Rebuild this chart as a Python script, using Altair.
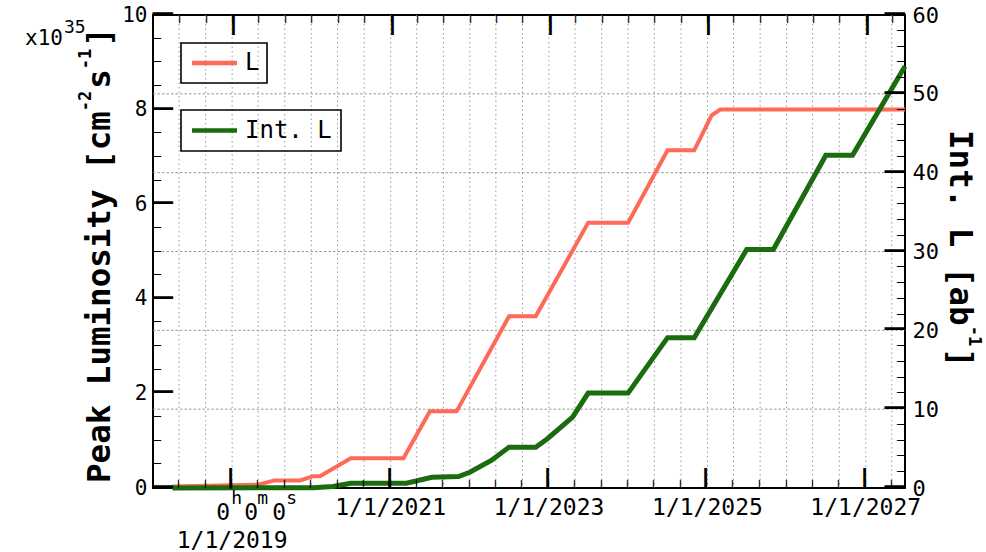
import altair as alt
import pandas as pd

# ---- data -------------------------------------------------------------
# Peak instantaneous luminosity, in units of 1e35 cm^-2 s^-1
lum_dates = ["2018-04-01", "2019-05-01", "2019-07-15", "2019-11-10", "2020-01-10",
             "2020-02-10", "2020-07-01", "2021-03-01", "2021-07-01", "2021-11-01",
             "2022-07-01", "2022-11-01", "2023-07-01", "2024-01-01", "2024-07-01",
             "2024-11-01", "2025-01-20", "2025-03-01", "2027-07-01"]
lum_values = [0.03, 0.07, 0.16, 0.16, 0.25, 0.25, 0.63, 0.63, 1.62, 1.62,
              3.63, 3.63, 5.61, 5.61, 7.14, 7.14, 7.88, 8.0, 8.0]

# Integrated luminosity, in ab^-1
int_dates = ["2018-04-01", "2020-01-10", "2020-04-10", "2020-07-01", "2021-03-15",
             "2021-07-10", "2021-11-10", "2022-01-01", "2022-04-10", "2022-07-01",
             "2022-11-01", "2022-12-25", "2023-04-20", "2023-07-01", "2024-01-01",
             "2024-07-01", "2024-11-01", "2025-07-01", "2025-11-01", "2026-07-01",
             "2026-11-01", "2027-07-01"]
int_values = [0.0, 0.03, 0.2, 0.61, 0.61, 1.37, 1.46, 2.0, 3.49, 5.18,
              5.18, 6.25, 8.99, 12.04, 12.04, 19.07, 19.07, 30.25, 30.25, 42.2,
              42.2, 53.5]

# time axis labels
x_label_dates = ["2021-01-01", "2023-01-01", "2025-01-01", "2027-01-01"]
x_label_texts = ["1/1/2021", "1/1/2023", "1/1/2025", "1/1/2027"]
first_label_date = "2019-01-01"
first_label_text = "1/1/2019"

lum_major = [0, 2, 4, 6, 8, 10]
int_major = [0, 10, 20, 30, 40, 50, 60]

# ---- layout / style ---------------------------------------------------
W, H = 752, 473
FONT = "DejaVu Sans Mono"
RED = "#ff6a58"
GREEN = "#1b6b0f"
DASH = "\u2500"          # box-drawing stroke used for the inward ticks
MINOR_FS, MAJOR_FS = 13.3, 33.2   # stroke length = 0.602 * font size (8 px / 20 px)

x_start, x_end = "2018-01-01", "2027-07-01"
grid_dates = [d.strftime("%Y-%m-%d") for d in pd.date_range(x_start, x_end, freq="4MS")][1:]
major_dates = [first_label_date] + x_label_dates
lum_minor = [i * 0.5 for i in range(21)]
int_minor = [i * 2 for i in range(31)]

x_scale = alt.Scale(type="utc", nice=False,
                    domain=[alt.DateTime(year=2018, month=1, date=1, utc=True),
                            alt.DateTime(year=2027, month=7, date=1, utc=True)])
lum_scale = alt.Scale(domain=[0, 10], nice=False, zero=True)
int_scale = alt.Scale(domain=[0, 60], nice=False, zero=True)

one = pd.DataFrame({"k": [0]})


def xenc(field="date"):
    return alt.X(f"{field}:T", scale=x_scale, axis=None)


layers = []

# dotted grid: vertical every 4 months, horizontal on the Int. L divisions
layers.append(alt.Chart(pd.DataFrame({"date": grid_dates})).mark_rule(
    color="#9a9a9a", strokeWidth=1, strokeDash=[1.5, 3]).encode(
    x=xenc(), y=alt.value(0), y2=alt.value(H)))
layers.append(alt.Chart(pd.DataFrame({"v": int_major[1:-1]})).mark_rule(
    color="#9a9a9a", strokeWidth=1, strokeDash=[2.5, 2]).encode(
    y=alt.Y("v:Q", scale=int_scale, axis=None), x=alt.value(0), x2=alt.value(W)))

# curves
lum_df = pd.DataFrame({"date": lum_dates, "lum": lum_values})
int_df = pd.DataFrame({"date": int_dates, "intl": int_values})

layers.append(alt.Chart(lum_df).mark_line(color=RED, strokeWidth=4).encode(
    x=xenc(),
    y=alt.Y("lum:Q", scale=lum_scale,
            axis=alt.Axis(orient="left", values=lum_major, ticks=False, domain=False,
                          grid=False, labelFont=FONT, labelFontSize=21, labelPadding=6,
                          labelColor="black", title=None))))
layers.append(alt.Chart(int_df).mark_line(color=GREEN, strokeWidth=5).encode(
    x=xenc(),
    y=alt.Y("intl:Q", scale=int_scale,
            axis=alt.Axis(orient="right", values=int_major, ticks=False, domain=False,
                          grid=False, labelFont=FONT, labelFontSize=22, labelPadding=7,
                          labelColor="black", title=None))))


# ---- inward tick marks, set as box-drawing strokes ----
def tick_text(fs):
    return dict(text=DASH, font=FONT, fontSize=fs,
                fontWeight="bold" if fs == MINOR_FS else "normal",
                baseline="middle", color="black")


for dates, fs in [(grid_dates, MINOR_FS), (major_dates, MAJOR_FS)]:
    tick_df = pd.DataFrame({"tdate": dates})
    # top edge, running downwards
    layers.append(alt.Chart(tick_df).mark_text(angle=90, align="left", **tick_text(fs)).encode(
        x=alt.X("tdate:T", scale=x_scale, axis=None), y=alt.value(0)))
    # bottom edge, running upwards
    layers.append(alt.Chart(tick_df).mark_text(angle=270, align="left", **tick_text(fs)).encode(
        x=alt.X("tdate:T", scale=x_scale, axis=None), y=alt.value(H)))

for vals, scale, fs, xpos, align in [(lum_minor, lum_scale, MINOR_FS, 0, "left"),
                                     (lum_major, lum_scale, MAJOR_FS, 0, "left"),
                                     (int_minor, int_scale, MINOR_FS, W, "right"),
                                     (int_major, int_scale, MAJOR_FS, W, "right")]:
    layers.append(alt.Chart(pd.DataFrame({"tv": vals})).mark_text(
        align=align, **tick_text(fs)).encode(
        y=alt.Y("tv:Q", scale=scale, axis=None), x=alt.value(xpos)))

# time axis labels
layers.append(alt.Chart(pd.DataFrame({"date": x_label_dates, "t": x_label_texts})).mark_text(
    font=FONT, fontSize=23, baseline="top", align="center", color="black").encode(
    x=xenc(), y=alt.value(H + 9), text="t:N"))
layers.append(alt.Chart(pd.DataFrame({"date": [first_label_date], "t": [first_label_text]})).mark_text(
    font=FONT, fontSize=23, baseline="alphabetic", align="center", color="black").encode(
    x=xenc(), y=alt.value(H + 60), text="t:N"))
# time-of-day offset written as 0^h 0^m 0^s
for txt, dx, fs, ybase in [("0", -16, 23, H + 32), ("h", -1, 18, H + 16),
                           ("0", 12, 23, H + 32), ("m", 25, 18, H + 16),
                           ("0", 40, 23, H + 32), ("s", 54, 18, H + 16)]:
    layers.append(alt.Chart(pd.DataFrame({"date": [first_label_date]})).mark_text(
        font=FONT, fontSize=fs, baseline="alphabetic", align="left", dx=dx,
        color="black", text=txt).encode(x=xenc(), y=alt.value(ybase)))


# rotated axis titles and the exponent, typeset piece by piece
def piece(txt, x, y, fs, angle=0, weight="normal", align="left", baseline="alphabetic"):
    return alt.Chart(one).mark_text(
        text=txt, font=FONT, fontSize=fs, fontWeight=weight, angle=angle,
        align=align, baseline=baseline, color="black").encode(
        x=alt.value(x), y=alt.value(y))


TF, SF = 32.5, 17
adv, sadv = 0.602 * TF, 0.602 * SF
SUP_SHIFT = 14
# left title, reading upwards
y = H - 5
lx = -53
for txt, sup in [("Peak Luminosity [cm", False), ("-2", True), ("s", False),
                 ("-1", True), ("]", False)]:
    layers.append(piece(txt, lx - (SUP_SHIFT if sup else 0), y, SF if sup else TF,
                        angle=270, weight="bold", baseline="middle"))
    y -= len(txt) * (sadv if sup else adv) + (2 if sup else 0)
# right title, reading downwards
y = 115
rx = W + 55
for txt, sup in [("Int. L [ab", False), ("-1", True), ("]", False)]:
    layers.append(piece(txt, rx + (SUP_SHIFT if sup else 0), y, SF if sup else TF,
                        angle=90, weight="bold", baseline="middle"))
    y += len(txt) * (sadv if sup else adv) + (2 if sup else 0)
# x10^35 exponent above the left axis
layers.append(piece("x10", -128, 30, 21))
layers.append(piece("35", -89, 18, 18))


# legend boxes
def legend_box(x0, y0, x1, y1, color, label):
    ym = (y0 + y1) / 2
    return [
        alt.Chart(one).mark_rect(fillOpacity=0, stroke="black", strokeWidth=1.6).encode(
            x=alt.value(x0), x2=alt.value(x1), y=alt.value(y0), y2=alt.value(y1)),
        alt.Chart(one).mark_rule(color=color, strokeWidth=4.5).encode(
            x=alt.value(x0 + 11), x2=alt.value(x0 + 56), y=alt.value(ym)),
        piece(label, x0 + 64, ym, 24, baseline="middle"),
    ]


layers += legend_box(28, 28, 114, 68, RED, "L")
layers += legend_box(28, 95, 188, 136, GREEN, "Int. L")

chart = alt.layer(*layers).resolve_scale(y="independent").properties(
    width=W, height=H,
    autosize=alt.AutoSizeParams(type="none"),
    padding={"left": 153, "top": 15, "right": 81, "bottom": 64},
    background="white",
).configure_view(stroke="black", strokeWidth=2)

chart.save("out.html", embed_options={"renderer": "svg", "actions": False})
